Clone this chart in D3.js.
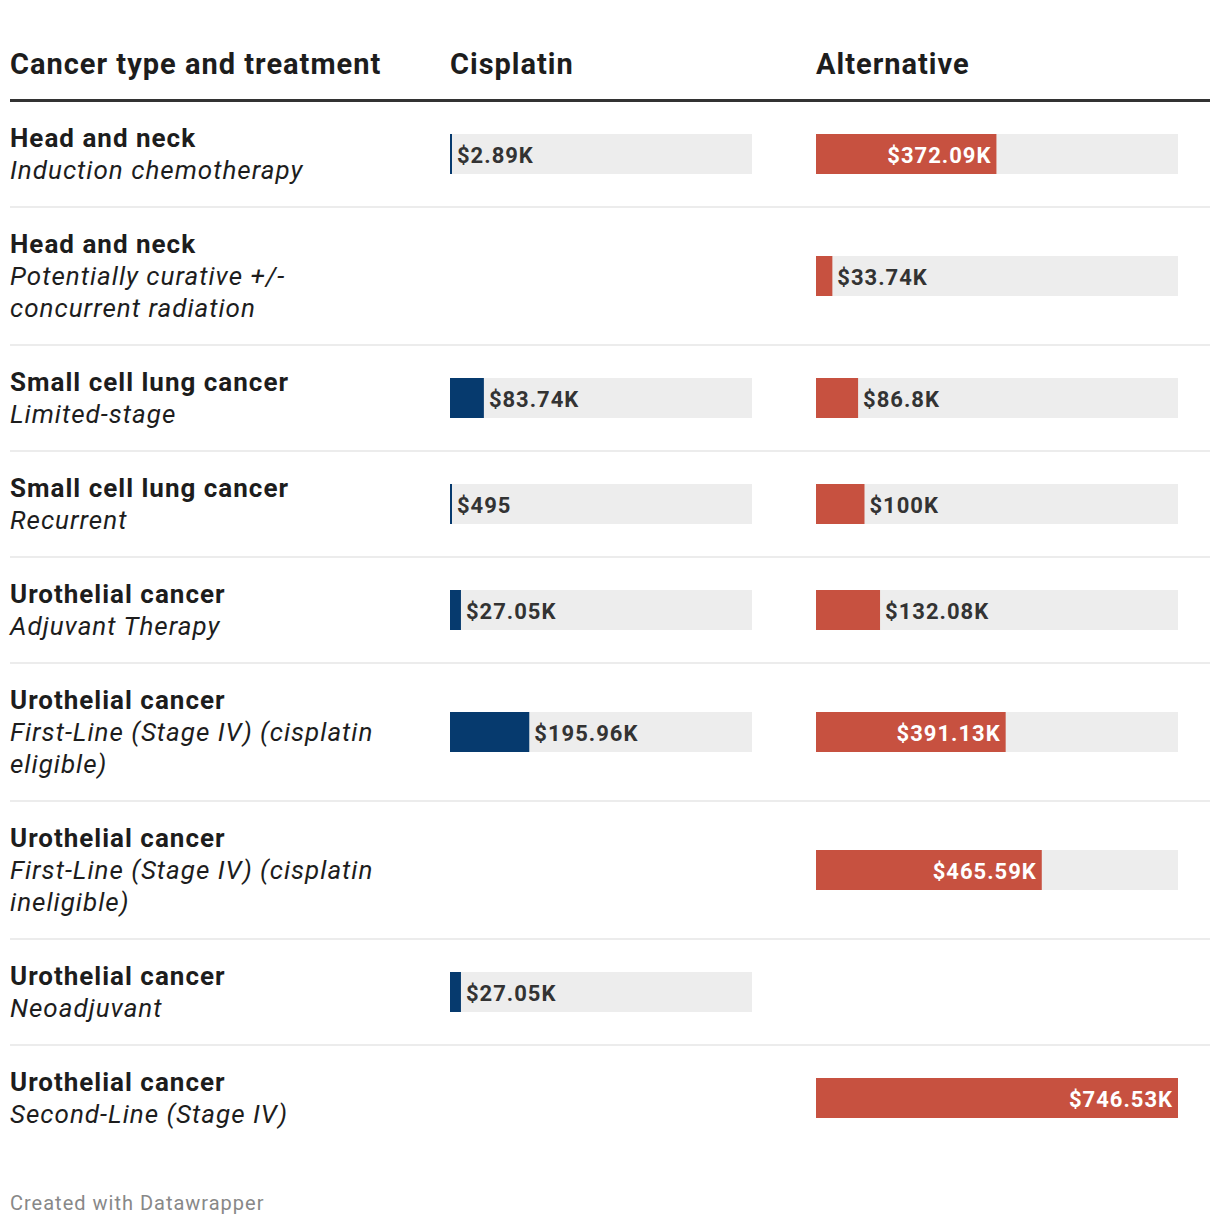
<!DOCTYPE html>
<html>
<head>
<meta charset="utf-8">
<script src="https://cdn.jsdelivr.net/npm/d3@7"></script>
<style>
  html, body { margin: 0; padding: 0; background: #fff; }
  svg { display: block; font-family: Roboto, "Noto Sans", sans-serif; }
</style>
</head>
<body>
<svg id="chart" width="1220" height="1226"></svg>
<script>
const headers = ["Cancer type and treatment", "Cisplatin", "Alternative"];
const categories = [
  "Head and neck", "Head and neck", "Small cell lung cancer", "Small cell lung cancer",
  "Urothelial cancer", "Urothelial cancer", "Urothelial cancer", "Urothelial cancer", "Urothelial cancer"
];
const treatments = [
  "Induction chemotherapy",
  "Potentially curative +/- concurrent radiation",
  "Limited-stage",
  "Recurrent",
  "Adjuvant Therapy",
  "First-Line (Stage IV) (cisplatin eligible)",
  "First-Line (Stage IV) (cisplatin ineligible)",
  "Neoadjuvant",
  "Second-Line (Stage IV)"
];
const cisplatin = [2890, null, 83740, 495, 27050, 195960, null, 27050, null];
const alternative = [372090, 33740, 86800, 100000, 132080, 391130, 465590, null, 746530];
const footer = "Created with Datawrapper";

const svg = d3.select("#chart");
const left = 10, right = 1210;
const cisX = 450, cisW = 302;
const altX = 816, altW = 362;
const lineH = 32, pad = 21, barH = 40;
const wrapWidth = 400;
const LS = 1;

const maxV = d3.max([...cisplatin, ...alternative].filter(v => v != null));
const xCis = d3.scaleLinear().domain([0, maxV]).range([0, cisW]);
const xAlt = d3.scaleLinear().domain([0, maxV]).range([0, altW]);

const fmt = v => v >= 1000 ? "$" + d3.format(".2~f")(v / 1000) + "K" : "$" + v;

// Header
const hdr = svg.append("g").attr("font-size", 29).attr("font-weight", 700).attr("fill", "#1d1d1d").attr("letter-spacing", LS);
hdr.append("text").attr("x", left).attr("y", 74).text(headers[0]);
hdr.append("text").attr("x", cisX).attr("y", 74).text(headers[1]);
hdr.append("text").attr("x", altX).attr("y", 74).text(headers[2]);
svg.append("rect").attr("x", left).attr("y", 99).attr("width", right - left).attr("height", 3).attr("fill", "#333");

// measuring helper
const meas = svg.append("text").attr("font-size", 26).attr("font-style", "italic").attr("letter-spacing", LS).attr("visibility", "hidden");
function wrap(str) {
  const words = str.split(" ");
  const lines = [];
  let cur = "";
  words.forEach(w => {
    const test = cur ? cur + " " + w : w;
    meas.text(test);
    if (meas.node().getComputedTextLength() > wrapWidth && cur) {
      lines.push(cur);
      cur = w;
    } else cur = test;
  });
  if (cur) lines.push(cur);
  return lines;
}

let y = 101;
categories.forEach((cat, i) => {
  const sub = wrap(treatments[i]);
  const nLines = 1 + sub.length;
  const h = pad * 2 + nLines * lineH;
  const g = svg.append("g").attr("transform", `translate(0,${y})`);
  const t = g.append("text").attr("x", left).attr("fill", "#1d1d1d").attr("font-size", 26).attr("letter-spacing", LS);
  t.append("tspan").attr("x", left).attr("y", 46).attr("font-weight", 700).text(cat);
  sub.forEach((s, k) => {
    t.append("tspan").attr("x", left).attr("y", 46 + (k + 1) * lineH).attr("font-style", "italic").text(s);
  });

  const cy = h / 2;
  function drawBar(v, x0, width, scale, color) {
    if (v == null) return;
    g.append("rect").attr("x", x0).attr("y", cy - barH / 2).attr("width", width).attr("height", barH).attr("fill", "#ededed");
    const bw = Math.max(2, scale(v));
    g.append("rect").attr("x", x0).attr("y", cy - barH / 2).attr("width", bw).attr("height", barH).attr("fill", color);
    const lab = g.append("text").attr("y", cy + 8.5).attr("font-size", 22).attr("font-weight", 700).attr("letter-spacing", LS).text(fmt(v));
    const lw = lab.node().getComputedTextLength();
    if (lw + 12 < bw) {
      lab.attr("x", x0 + bw - 5).attr("text-anchor", "end").attr("fill", "#fff");
    } else {
      lab.attr("x", x0 + bw + 5).attr("fill", "#333");
    }
  }
  drawBar(cisplatin[i], cisX, cisW, xCis, "#063a6e");
  drawBar(alternative[i], altX, altW, xAlt, "#c75140");

  if (i < categories.length - 1) {
    g.append("rect").attr("x", left).attr("y", h - 1).attr("width", right - left).attr("height", 2).attr("fill", "#ececec");
  }
  y += h;
});
meas.remove();

svg.append("text").attr("x", left).attr("y", 1210).attr("font-size", 20).attr("fill", "#888").attr("letter-spacing", LS).text(footer);
</script>
</body>
</html>
